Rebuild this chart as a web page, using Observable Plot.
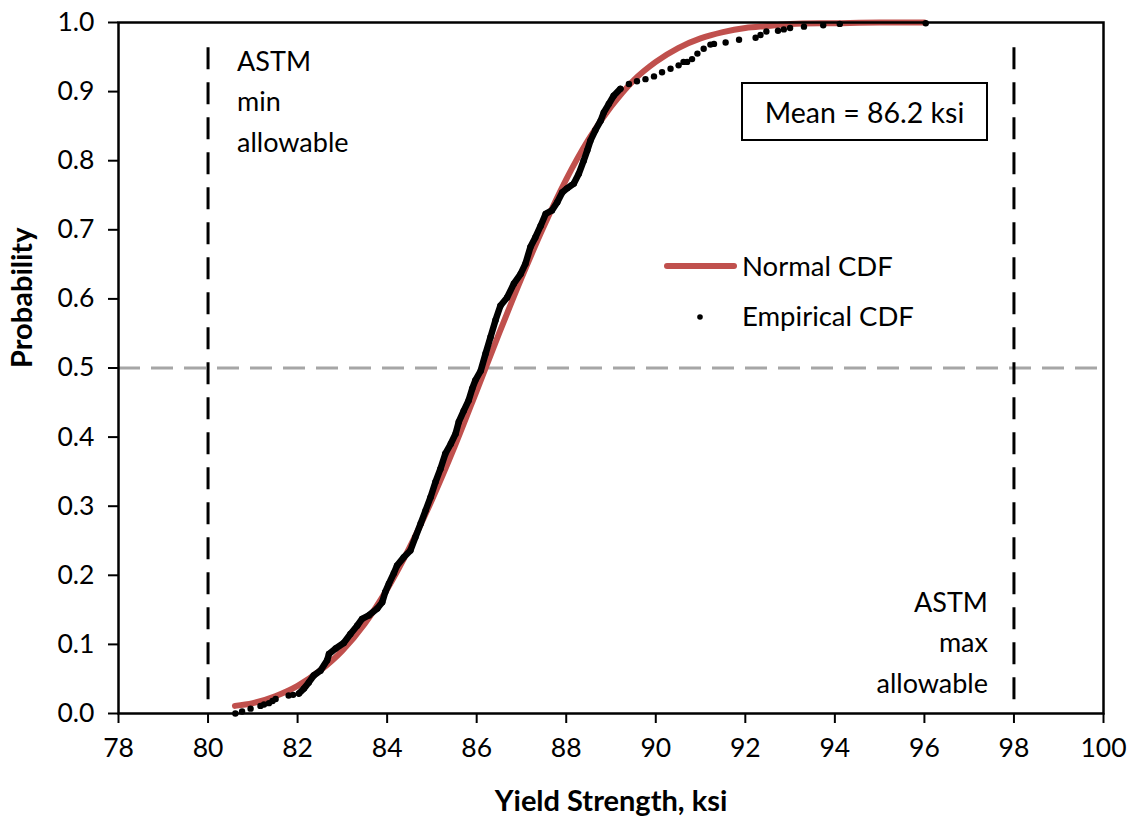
<!DOCTYPE html>
<html><head><meta charset="utf-8">
<script src="https://cdn.jsdelivr.net/npm/d3@7"></script>
<script src="https://cdn.jsdelivr.net/npm/@observablehq/plot@0.6"></script>
<style>
body{margin:0;background:#fff;}
#wrap{position:relative;width:1133px;height:817px;font-family:Lato,"Open Sans",sans-serif;color:#000;}
#meanbox{position:absolute;left:741px;top:82px;width:243px;height:55px;border:2px solid #000;display:flex;align-items:center;justify-content:center;font-size:28.5px;background:#fff;}
.leg{position:absolute;font-size:27.5px;line-height:30px;white-space:nowrap;}
</style></head><body><div id="wrap"></div>
<script>
// ---- data ----
const xTicks = [78, 80, 82, 84, 86, 88, 90, 92, 94, 96, 98, 100];
const yTicks = [0, 0.1, 0.2, 0.3, 0.4, 0.5, 0.6, 0.7, 0.8, 0.9, 1.0];

const normalX = [80.6, 81, 81.5, 82, 82.5, 83, 83.5, 84, 84.5, 85, 85.5, 86, 86.5, 87, 87.5, 88, 88.5, 89, 89.5, 90, 90.5, 91, 91.5, 92, 92.5, 93, 94, 95, 96];
const normalP = [0.011, 0.015, 0.025, 0.040, 0.062, 0.091, 0.130, 0.180, 0.240, 0.309, 0.385, 0.467, 0.550, 0.630, 0.705, 0.773, 0.831, 0.878, 0.916, 0.943, 0.963, 0.977, 0.986, 0.992, 0.995, 0.998, 0.999, 1.0, 1.0];

const empX = [80.61, 80.76, 80.95, 81.17, 81.25, 81.36, 81.44, 81.51, 81.80, 81.90, 82.03, 82.14, 82.25, 82.36, 82.51, 82.66, 82.70, 82.85, 83.03, 83.18, 83.33, 83.44, 83.59, 83.78, 83.89, 83.96, 84.04, 84.15, 84.22, 84.37, 84.52, 84.63, 84.75, 84.86, 84.97, 85.08, 85.19, 85.30, 85.42, 85.53, 85.60, 85.71, 85.82, 85.90, 85.97, 86.09, 86.20, 86.31, 86.42, 86.53, 86.68, 86.83, 86.98, 87.09, 87.20, 87.31, 87.43, 87.54, 87.68, 87.80, 87.91, 88.02, 88.17, 88.28, 88.39, 88.47, 88.54, 88.65, 88.77, 88.84, 88.95, 89.06, 89.21, 89.40, 89.58, 89.77, 89.96, 90.14, 90.33, 90.51, 90.62, 90.70, 90.81, 90.93, 91.07, 91.22, 91.30, 91.56, 91.86, 92.23, 92.34, 92.47, 92.73, 92.86, 93.00, 93.31, 93.74, 94.11, 96.03];
const empP = [0.000, 0.003, 0.007, 0.011, 0.013, 0.015, 0.018, 0.021, 0.026, 0.027, 0.029, 0.036, 0.045, 0.055, 0.062, 0.077, 0.086, 0.094, 0.102, 0.115, 0.127, 0.137, 0.142, 0.152, 0.161, 0.176, 0.188, 0.203, 0.214, 0.226, 0.236, 0.255, 0.275, 0.294, 0.313, 0.335, 0.354, 0.376, 0.390, 0.405, 0.422, 0.438, 0.453, 0.470, 0.482, 0.496, 0.521, 0.545, 0.569, 0.590, 0.602, 0.622, 0.636, 0.651, 0.675, 0.689, 0.706, 0.723, 0.728, 0.740, 0.754, 0.760, 0.767, 0.781, 0.800, 0.815, 0.829, 0.844, 0.858, 0.870, 0.882, 0.894, 0.904, 0.911, 0.915, 0.918, 0.922, 0.928, 0.933, 0.938, 0.943, 0.943, 0.947, 0.955, 0.962, 0.968, 0.969, 0.971, 0.975, 0.978, 0.982, 0.987, 0.988, 0.990, 0.992, 0.994, 0.996, 0.998, 0.999];

const astmLimits = [80, 98];
const medianP = 0.5;
const meanLabel = "Mean = 86.2 ksi";
const legendLabels = ["Normal CDF", "Empirical CDF"];
const xLabel = "Yield Strength, ksi";
const yLabel = "Probability";

// ---- build tables ----
const normal = normalX.map((x, i) => ({x, p: normalP[i]}));
const emp = empX.map((x, i) => ({x, p: empP[i]}));
const empDense = emp.filter(d => d.x >= 82.0 && d.x <= 89.3);

const red = "#C0504D";
const chart = Plot.plot({
  width: 1133,
  height: 817,
  marginLeft: 118,
  marginRight: 30,
  marginTop: 22,
  marginBottom: 104,
  style: {fontFamily: "Lato, 'Open Sans', sans-serif", fontSize: "27px", color: "#000", background: "#fff"},
  x: {domain: [78, 100], axis: null},
  y: {domain: [0, 1], axis: null},
  marks: [
    Plot.ruleY([medianP], {stroke: "#a6a6a6", strokeWidth: 3, strokeDasharray: "22,11"}),
    Plot.ruleX(astmLimits, {y1: 0.02, y2: 0.967, stroke: "#000", strokeWidth: 3, strokeDasharray: "22,13"}),
    Plot.line(normal, {x: "x", y: "p", stroke: red, strokeWidth: 6, curve: "monotone-x", strokeLinecap: "round"}),
    Plot.line(empDense, {x: "x", y: "p", stroke: "#000", strokeWidth: 6.5, curve: "linear"}),
    Plot.dot(emp, {x: "x", y: "p", r: 3.2, fill: "#000", stroke: "none"}),
    Plot.frame({stroke: "#000", strokeWidth: 2.5}),
    Plot.axisX(xTicks, {anchor: "bottom", tickSize: 10, tickPadding: 15, strokeWidth: 2, fontSize: 26.5, label: null}),
    Plot.axisY(yTicks, {anchor: "left", tickSize: 10, tickPadding: 14, strokeWidth: 2, fontSize: 26.5, tickFormat: d3.format(".1f"), label: null}),
    Plot.text([xLabel], {frameAnchor: "bottom", dy: 88, fontWeight: "bold", fontSize: 29, lineAnchor: "middle"}),
    Plot.text([yLabel], {frameAnchor: "left", dx: -96, rotate: -90, fontWeight: "bold", fontSize: 29, lineAnchor: "middle"}),
    Plot.text(["ASTM\nmin\nallowable"], {x: astmLimits[0], frameAnchor: "top", dx: 29, dy: 76, textAnchor: "start", lineAnchor: "middle", lineHeight: 1.5, fontSize: 27}),
    Plot.text(["ASTM\nmax\nallowable"], {x: astmLimits[1], frameAnchor: "bottom", dx: -26, dy: -74, textAnchor: "end", lineAnchor: "middle", lineHeight: 1.5, fontSize: 27})
  ]
});

const wrap = document.getElementById("wrap");
wrap.appendChild(chart);

const box = document.createElement("div");
box.id = "meanbox";
box.textContent = meanLabel;
wrap.appendChild(box);

const leg1 = document.createElement("div");
leg1.className = "leg";
leg1.style.left = "664px"; leg1.style.top = "251px";
leg1.innerHTML = `<svg width="74" height="30" style="vertical-align:top"><line x1="3" x2="70" y1="15" y2="15" stroke="${red}" stroke-width="6" stroke-linecap="round"/></svg><span style="margin-left:4px">${legendLabels[0]}</span>`;
wrap.appendChild(leg1);

const leg2 = document.createElement("div");
leg2.className = "leg";
leg2.style.left = "664px"; leg2.style.top = "301px";
leg2.innerHTML = `<svg width="74" height="30" style="vertical-align:top"><circle cx="36" cy="16" r="2.8" fill="#000"/></svg><span style="margin-left:4px">${legendLabels[1]}</span>`;
wrap.appendChild(leg2);
</script>
</body></html>
